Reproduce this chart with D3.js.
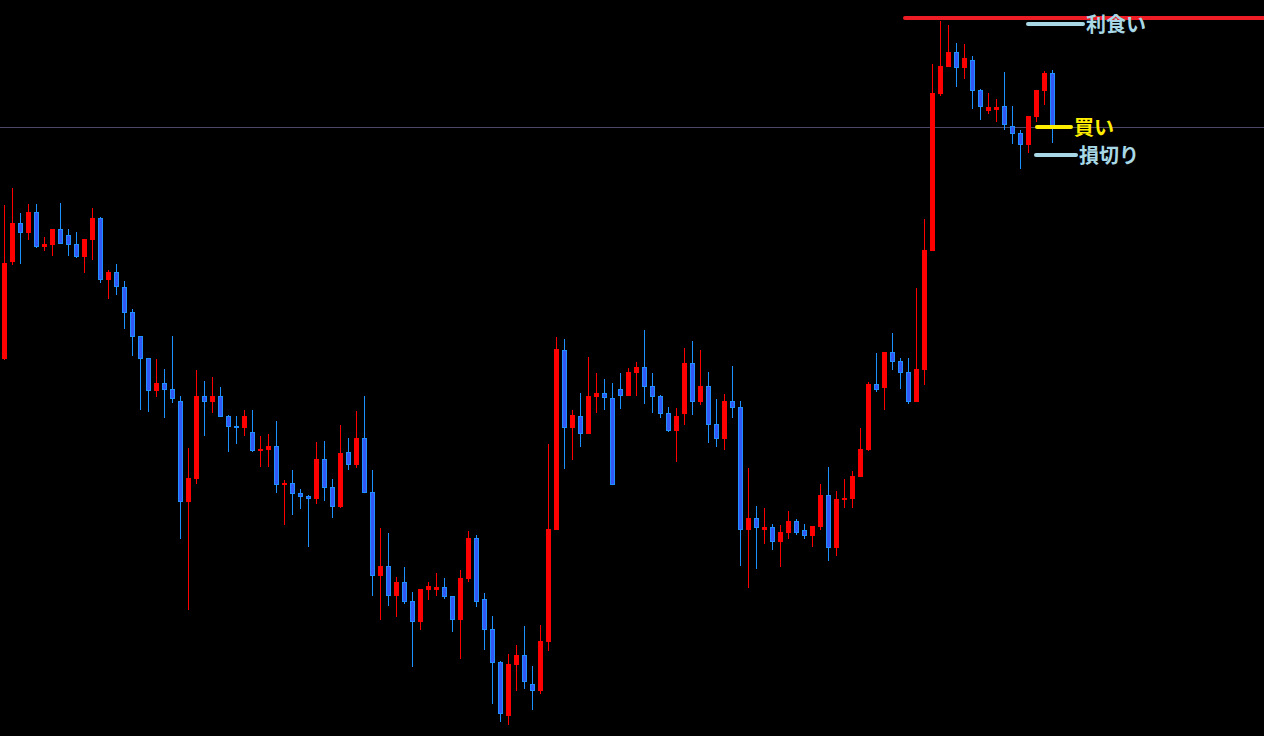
<!DOCTYPE html>
<html><head><meta charset="utf-8">
<script src="https://cdn.jsdelivr.net/npm/d3@7"></script>
<style>html,body{margin:0;padding:0;background:#000;overflow:hidden}svg{display:block}</style>
</head><body><svg id="c" width="1264" height="736"></svg>
<script>
// OHLC price series (arbitrary price units)
const opens  = [641,738,777,767,788,753,755,771,765,756,743,760,782,720,728,713,688,664,642,609,617,611,599,498,521,604,598,604,584,574,572,568,549,550,554,515,517,507,504,501,541,513,493,548,535,562,508,424,434,404,418,399,378,410,410,413,404,380,421,462,401,371,338,284,335,345,316,309,358,470,650,572,584,566,603,607,602,611,604,627,633,614,604,587,569,586,637,598,614,576,561,599,593,470,482,470,473,458,467,479,470,464,473,505,452,500,501,523,550,616,612,648,639,628,598,630,749,906,933,948,932,940,910,889,890,894,874,867,855,883,909,927];
const highs  = [795,812,787,796,796,763,771,797,771,768,761,792,783,730,736,719,691,664,642,641,631,664,604,552,630,619,623,613,585,584,590,590,564,566,579,520,530,511,505,558,559,521,575,562,589,604,530,472,467,423,433,408,411,418,427,422,404,430,469,465,407,384,339,346,355,374,334,375,556,663,661,590,607,643,627,621,617,627,632,638,670,627,605,593,592,652,659,650,628,601,606,634,599,532,494,492,476,475,489,481,476,474,516,533,509,521,529,572,618,647,648,667,642,642,712,781,936,979,975,957,956,944,911,907,901,928,894,870,884,910,929,930];
const lows   = [640,735,736,760,752,749,744,756,744,742,727,740,717,701,705,671,644,590,588,603,582,597,461,390,516,564,587,583,548,556,564,548,533,533,507,475,485,491,453,496,499,482,492,530,532,507,404,380,394,383,396,333,370,400,404,401,368,341,418,393,350,296,278,275,309,311,290,306,349,470,531,540,553,566,587,590,515,591,604,604,596,587,582,568,538,575,585,595,557,553,550,582,434,412,431,456,450,433,461,465,461,453,470,439,444,492,492,523,549,608,590,630,611,596,598,615,749,904,933,913,921,891,880,886,878,870,856,831,847,878,895,857];
const closes = [737,777,767,788,753,756,771,756,755,743,761,782,720,728,713,687,663,641,609,617,610,601,498,522,604,598,604,583,573,572,584,549,551,554,515,517,506,503,501,541,512,493,547,535,562,507,424,434,404,418,398,378,411,414,413,403,380,422,462,398,370,337,286,336,345,318,309,359,471,651,572,585,566,604,607,602,515,604,628,633,613,603,586,569,584,637,598,614,575,561,599,592,470,482,472,473,458,468,479,467,464,474,505,452,501,502,524,551,616,610,648,638,627,598,631,750,907,934,948,932,942,909,893,893,893,875,866,855,884,910,927,873];

// Trade levels
const levelNames  = ["利食い", "買い", "損切り"];
const levelPrices = [976, 873, 845];
const levelColors = ["#a8d8e6", "#ffee00", "#a8d8e6"];
const resistancePrice = 982;

const W = 1264, H = 736;
const svg = d3.select("#c");
svg.append("rect").attr("width", W).attr("height", H).attr("fill", "#000");

const n = opens.length;
const x = d3.scaleBand().domain(d3.range(n)).range([0, n * 8]);
const y = d3.scaleLinear().domain([264, 1000]).range([H, 0]);

const data = d3.range(n).map(i => ({i, o: opens[i], h: highs[i], l: lows[i], c: closes[i]}));
const UP = "#ff0000", DNW = "#1e90ff", DNF = "#3358f5";

// buy price horizontal line
svg.append("line").attr("x1", 0).attr("x2", W)
  .attr("y1", Math.round(y(levelPrices[1])) + 0.5).attr("y2", Math.round(y(levelPrices[1])) + 0.5)
  .attr("stroke", "#4e4868").attr("stroke-width", 1);

const g = svg.append("g");
const cand = g.selectAll("g.c").data(data).join("g");
cand.append("line")
  .attr("x1", d => x(d.i) + 4.5).attr("x2", d => x(d.i) + 4.5)
  .attr("y1", d => Math.round(y(d.h))).attr("y2", d => Math.round(y(d.l)))
  .attr("stroke", d => d.c >= d.o ? UP : DNW).attr("stroke-width", 1);
cand.filter(d => d.c >= d.o).append("rect")
  .attr("x", d => x(d.i) + 2).attr("width", 5)
  .attr("y", d => Math.round(y(d.c)))
  .attr("height", d => Math.max(2, Math.round(y(d.o)) - Math.round(y(d.c))))
  .attr("fill", UP);
cand.filter(d => d.c < d.o).append("rect")
  .attr("x", d => x(d.i) + 2.5).attr("width", 4)
  .attr("y", d => Math.round(y(d.o)) + 0.5)
  .attr("height", d => Math.max(1, Math.round(y(d.c)) - Math.round(y(d.o)) - 1))
  .attr("fill", DNF).attr("stroke", DNW).attr("stroke-width", 1);

// resistance line
svg.append("line").attr("x1", 905).attr("x2", W + 4)
  .attr("y1", y(resistancePrice)).attr("y2", y(resistancePrice))
  .attr("stroke", "#ee1c24").attr("stroke-width", 4).attr("stroke-linecap", "round");

// level markers
const lineX1 = [1028, 1037, 1036];
const lineX2 = [1083, 1071, 1076];
const textX  = [1086, 1074, 1079];
levelNames.forEach((name, k) => {
  const yy = y(levelPrices[k]);
  svg.append("line").attr("x1", lineX1[k]).attr("x2", lineX2[k])
    .attr("y1", yy).attr("y2", yy)
    .attr("stroke", levelColors[k]).attr("stroke-width", 4).attr("stroke-linecap", "round");
  svg.append("text").attr("x", textX[k]).attr("y", yy - 1)
    .attr("dominant-baseline", "central")
    .attr("font-family", "'Noto Sans CJK JP', sans-serif").attr("font-weight", "bold")
    .attr("font-size", 20).attr("fill", levelColors[k]).text(name);
});
</script></body></html>
